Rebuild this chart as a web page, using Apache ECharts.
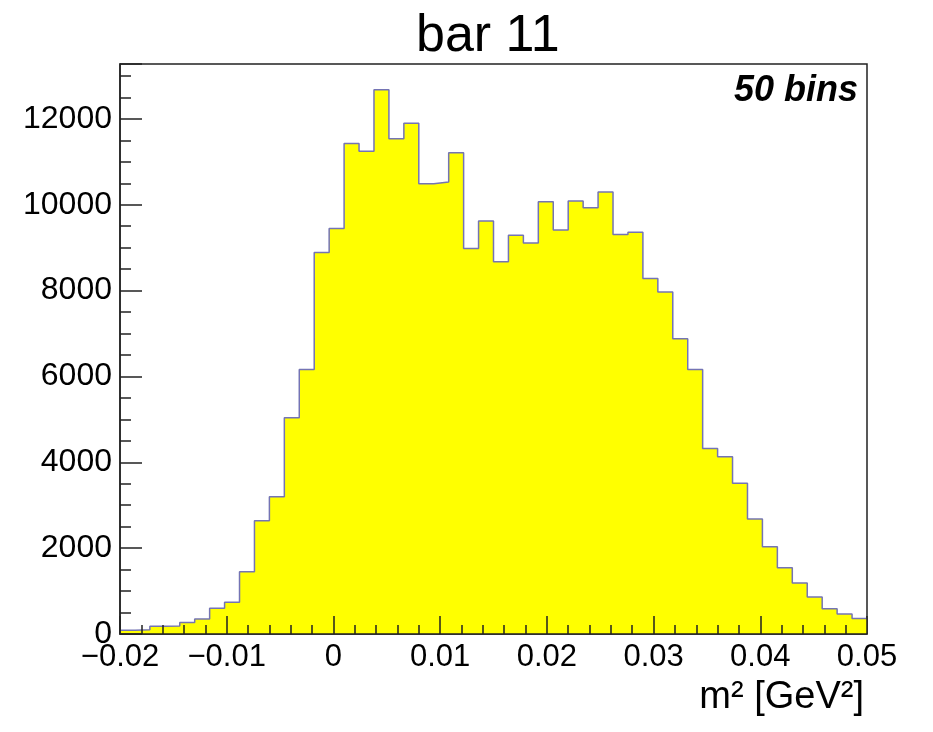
<!DOCTYPE html>
<html>
<head>
<meta charset="utf-8">
<script src="https://cdn.jsdelivr.net/npm/echarts@6/dist/echarts.min.js"></script>
<style>
  html, body { margin: 0; padding: 0; background: #fff; }
  #chart { width: 933px; height: 732px; }
</style>
</head>
<body>
<div id="chart"></div>
<script>
// Histogram definition
const xMin = -0.02;
const xMax = 0.05;
const nBins = 50;
const counts = [
  90, 100, 180, 185, 270, 350, 600, 740, 1450, 2640,
  3200, 5040, 6160, 8890, 9450, 11430, 11250, 12680, 11540, 11900,
  10490, 10530, 11210, 8980, 9620, 8670, 9290, 9110, 10070, 9410,
  10090, 9930, 10300, 9310, 9360, 8280, 7970, 6880, 6160, 4320,
  4130, 3510, 2680, 2030, 1545, 1190, 860, 590, 465, 360
];
const xTicks = [-0.02, -0.01, 0, 0.01, 0.02, 0.03, 0.04, 0.05];
const yTicks = [0, 2000, 4000, 6000, 8000, 10000, 12000];
const titleText = 'bar 11';
const statText = '50 bins';
const xTitle = 'm\u00B2 [GeV\u00B2]';

const binW = (xMax - xMin) / nBins;
const stepData = [];
counts.forEach((c, i) => {
  const lo = xMin + i * binW, hi = xMin + (i + 1) * binW;
  stepData.push([lo, c]);
  stepData.push([hi, c]);
});

const FONT = '"Liberation Sans", Arial, Helvetica, sans-serif';
const AX = '#222';

const chart = echarts.init(document.getElementById('chart'));
chart.setOption({
  animation: false,
  backgroundColor: '#fff',
  grid: { left: 120, right: 66, top: 64, bottom: 98, show: true, borderColor: AX, borderWidth: 1.5, backgroundColor: 'transparent' },
  xAxis: {
    type: 'value', min: xMin, max: xMax, interval: 0.01, z: 10,
    axisLine: { show: true, onZero: false, lineStyle: { color: AX, width: 1.5 } },
    axisTick: { show: true, inside: true, length: 18, lineStyle: { color: AX, width: 1.5 } },
    minorTick: { show: true, splitNumber: 5, length: 9, lineStyle: { color: AX, width: 1.5 } },
    splitLine: { show: false },
    axisLabel: {
      margin: 8, color: '#000', fontSize: 31, fontFamily: FONT,
      formatter: v => {
        const r = Math.round(v * 100) / 100;
        if (!xTicks.some(t => Math.abs(t - r) < 1e-9)) return '';
        if (r === 0) return '0';
        return (r < 0 ? '\u2212' : '') + String(Math.abs(r));
      }
    }
  },
  yAxis: {
    type: 'value', min: 0, max: 13280, interval: 2000, z: 10,
    axisLine: { show: true, onZero: false, lineStyle: { color: AX, width: 1.5 } },
    axisTick: { show: true, inside: true, length: 22, lineStyle: { color: AX, width: 1.5 } },
    minorTick: { show: true, splitNumber: 4, length: 11, lineStyle: { color: AX, width: 1.5 } },
    splitLine: { show: false },
    axisLabel: {
      margin: 8, color: '#000', fontSize: 32, fontFamily: FONT, showMaxLabel: false,
      formatter: v => (yTicks.indexOf(Math.round(v)) >= 0 ? String(Math.round(v)) : '')
    }
  },
  series: [{
    type: 'line',
    data: stepData,
    showSymbol: false,
    symbol: 'none',
    lineStyle: { color: '#7474b4', width: 1.5 },
    areaStyle: { color: '#ffff00', opacity: 1, origin: 'start' },
    z: 1
  }],
  graphic: [
    { type: 'text', left: 493 - 77, top: 11, style: { text: titleText, font: '52px ' + FONT, fill: '#000' } },
    { type: 'text', right: 933 - 858, top: 73, style: { text: statText, font: 'italic bold 36px ' + FONT, fill: '#000' } },
    { type: 'text', right: 933 - 864, top: 679, style: { text: xTitle, font: '38px ' + FONT, fill: '#000' } }
  ]
});
</script>
</body>
</html>
